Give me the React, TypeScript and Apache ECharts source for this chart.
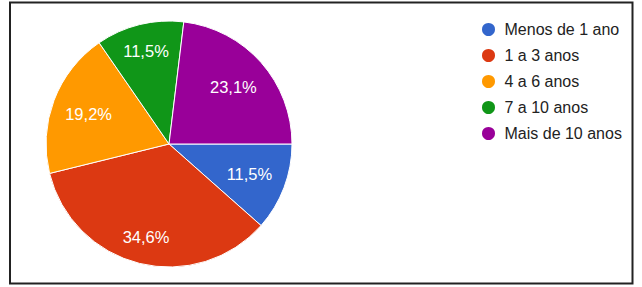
import React, { useEffect, useRef } from "react";
import * as echarts from "echarts";

const categories = ["Menos de 1 ano", "1 a 3 anos", "4 a 6 anos", "7 a 10 anos", "Mais de 10 anos"];
const values = [3, 9, 5, 3, 6];
const colors = ["#3366CC", "#DC3912", "#FF9900", "#109618", "#990099"];
// labels placed nearer the rim for the near-vertical slices
const farLabel = [false, true, false, true, false];

export default function App() {
  const ref = useRef<HTMLDivElement>(null);
  useEffect(() => {
    if (!ref.current) return;
    const chart = echarts.init(ref.current, undefined, { renderer: "svg" });
    const total = values.reduce((a, b) => a + b, 0);
    const fmt = (p: any) => ((p.value / total) * 100).toFixed(1).replace(".", ",") + "%";
    const center = [169, 144];
    const R = 123;
    const base = categories.map((name, i) => ({ name, value: values[i], itemStyle: { color: colors[i] } }));
    const labelStyle = {
      color: "#ffffff",
      fontSize: 16.5,
      fontFamily: "Liberation Sans, Arial, sans-serif",
      formatter: fmt,
    };
    chart.setOption({
      animation: false,
      backgroundColor: "#ffffff",
      graphic: [
        {
          type: "rect",
          shape: { x: 10, y: 2.5, width: 622.5, height: 281 },
          style: { fill: "none", stroke: "#222222", lineWidth: 2 },
          z: 100,
        },
      ],
      legend: {
        orient: "vertical",
        left: 475,
        top: 16,
        icon: "circle",
        itemWidth: 16,
        itemHeight: 15,
        itemGap: 9,
        data: categories,
        textStyle: {
          fontSize: 16,
          color: "#222222",
          fontFamily: "Liberation Sans, Arial, sans-serif",
          lineHeight: 16,
          padding: [0, 0, 0, 3],
        },
      },
      series: [
        {
          type: "pie",
          center,
          radius: [0, R],
          startAngle: 0,
          clockwise: true,
          data: base,
          label: { show: false },
          labelLine: { show: false },
          itemStyle: { borderColor: "#ffffff", borderWidth: 1 },
          silent: true,
        },
        {
          type: "pie",
          center,
          radius: [43, R],
          startAngle: 0,
          clockwise: true,
          data: base.map((d, i) => ({
            ...d,
            itemStyle: { color: "rgba(0,0,0,0)" },
            label: { show: !farLabel[i] },
          })),
          label: { position: "inside", ...labelStyle },
          labelLine: { show: false },
          silent: true,
          legendHoverLink: false,
        },
        {
          type: "pie",
          center,
          radius: [63, R],
          startAngle: 0,
          clockwise: true,
          data: base.map((d, i) => ({
            ...d,
            itemStyle: { color: "rgba(0,0,0,0)" },
            label: { show: farLabel[i] },
          })),
          label: { position: "inside", ...labelStyle },
          labelLine: { show: false },
          silent: true,
          legendHoverLink: false,
        },
      ],
    });
    return () => chart.dispose();
  }, []);
  return (
    <div
      ref={ref}
      style={{ position: "fixed", left: 0, top: 0, width: 642, height: 287 }}
    />
  );
}
